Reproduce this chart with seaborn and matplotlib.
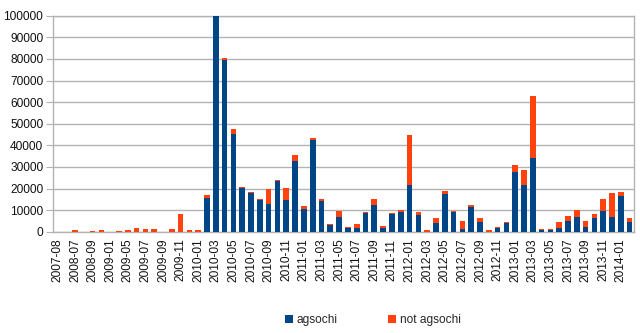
import matplotlib
matplotlib.use("Agg")
import matplotlib.pyplot as plt
from matplotlib.patches import Patch
import seaborn as sns
import pandas as pd

categories = [
    "2007-08", "2008-06", "2008-07", "2008-08", "2008-09", "2008-11", "2009-01", "2009-03",
    "2009-05", "2009-06", "2009-07", "2009-08", "2009-09", "2009-10", "2009-11", "2009-12",
    "2010-01", "2010-02", "2010-03", "2010-04", "2010-05", "2010-06", "2010-07", "2010-08",
    "2010-09", "2010-10", "2010-11", "2010-12", "2011-01", "2011-02", "2011-03", "2011-04",
    "2011-05", "2011-06", "2011-07", "2011-08", "2011-09", "2011-10", "2011-11", "2011-12",
    "2012-01", "2012-02", "2012-03", "2012-04", "2012-05", "2012-06", "2012-07", "2012-08",
    "2012-09", "2012-10", "2012-11", "2012-12", "2013-01", "2013-02", "2013-03", "2013-04",
    "2013-05", "2013-06", "2013-07", "2013-08", "2013-09", "2013-10", "2013-11", "2013-12",
    "2014-01", "2014-02",
]

agsochi = [
    0, 0, 0, 0, 0, 0, 0, 0,
    0, 0, 0, 0, 0, 0, 0, 0,
    0, 15700, 100000, 79500, 45200, 20400, 17800, 14500,
    13000, 23500, 14500, 32600, 10400, 42300, 14400, 3000,
    6700, 1900, 1900, 8500, 12500, 1900, 8300, 9300,
    21600, 7600, 0, 4000, 17600, 9000, 1200, 11300,
    4500, 0, 1700, 4000, 27500, 21600, 34300, 800,
    800, 1700, 4800, 6700, 2200, 6200, 9400, 6700,
    16500, 4500,
]

not_agsochi = [
    0, 0, 600, 0, 300, 700, 0, 300,
    900, 1700, 1400, 1200, 0, 1200, 8200, 1000,
    1000, 1300, 0, 1100, 2300, 300, 500, 700,
    6900, 600, 5900, 2800, 1600, 1100, 800, 600,
    2900, 300, 1800, 600, 2500, 600, 400, 600,
    23300, 1500, 1000, 2200, 1100, 600, 3800, 1100,
    1700, 700, 500, 300, 3200, 7100, 28500, 400,
    300, 2800, 2300, 3500, 2600, 2000, 5600, 11100,
    1900, 2000,
]

series_labels = ["agsochi", "not agsochi"]
y_ticks = [0, 10000, 20000, 30000, 40000, 50000, 60000, 70000, 80000, 90000, 100000]

BLUE = "#004586"
ORANGE = "#ff420e"
GRID = "#b3b3b3"

sns.set_style("white")
plt.rcParams["font.family"] = ["Liberation Sans", "DejaVu Sans"]

df = pd.DataFrame({
    "month": categories,
    "agsochi": agsochi,
    "total": [a + b for a, b in zip(agsochi, not_agsochi)],
})

fig = plt.figure(figsize=(6.4, 3.33), dpi=100)
ax = fig.add_axes([53 / 640, 1 - 231.7 / 333, 581 / 640, (231.7 - 15.7) / 333])

sns.barplot(data=df, x="month", y="total", order=categories, color=ORANGE,
            saturation=1, width=0.64, errorbar=None, ax=ax, zorder=3)
sns.barplot(data=df, x="month", y="agsochi", order=categories, color=BLUE,
            saturation=1, width=0.64, errorbar=None, ax=ax, zorder=3)

for p in ax.patches:
    p.set_edgecolor("none")
    p.set_zorder(3)

ax.set_xlim(-0.5, len(categories) - 0.5)
ax.set_ylim(0, 100000)
ax.set_yticks(y_ticks)
ax.set_yticklabels([str(v) for v in y_ticks], fontsize=8.6, color="#111111")

idx = list(range(0, len(categories), 2))
ax.set_xticks(idx)
ax.set_xticklabels([categories[i] for i in idx], rotation=90, fontsize=8.6, color="#111111")
ax.set_xticks([i - 0.5 for i in range(len(categories) + 1)], minor=True)
ax.tick_params(axis="x", which="major", length=0, pad=5)
ax.tick_params(axis="x", which="minor", length=3, width=0.8, color=GRID, direction="out")
ax.tick_params(axis="y", which="major", length=5, width=0.8, color=GRID, direction="out", pad=2, left=True)

ax.set_xlabel("")
ax.set_ylabel("")
ax.yaxis.grid(True, color=GRID, linewidth=1.0, zorder=0)
ax.xaxis.grid(False)
for s in ax.spines.values():
    s.set_visible(True)
    s.set_color(GRID)
    s.set_linewidth(1.0)

handles = [Patch(facecolor=BLUE, edgecolor="none", label=series_labels[0]),
           Patch(facecolor=ORANGE, edgecolor="none", label=series_labels[1])]
fig.legend(handles=handles, loc="center", bbox_to_anchor=(373 / 640, 1 - 320 / 333),
           ncol=2, frameon=False, handlelength=0.65, handleheight=0.65,
           handletextpad=0.35, columnspacing=4.2, fontsize=8.6)

fig.savefig("out.png", dpi=100)
